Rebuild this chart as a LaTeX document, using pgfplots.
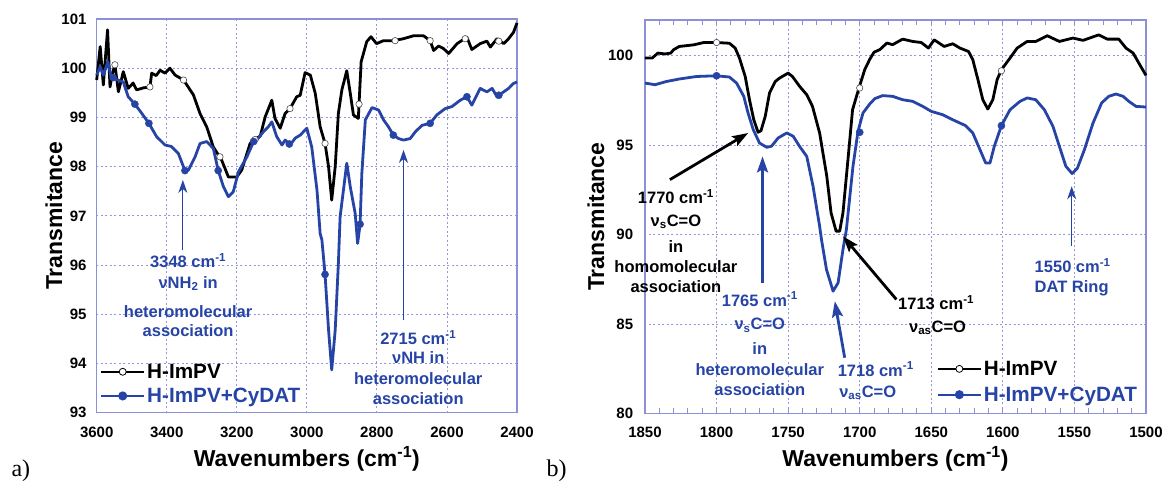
\documentclass[border=0pt]{standalone}
\usepackage{fontspec}
\setmainfont{Liberation Sans}
\newfontfamily\timesfont{Liberation Serif}
\usepackage{pgfplots}
\pgfplotsset{compat=1.18}
\usetikzlibrary{arrows.meta}
\definecolor{myblue}{RGB}{38,68,165}
\definecolor{axiscol}{RGB}{140,145,215}
\definecolor{gridcol}{RGB}{150,150,220}
\newcommand\annfont{\bfseries\fontsize{16.5}{18}\selectfont}
\pgfplotsset{
  myaxis/.style={
    scale only axis, x dir=reverse, clip=false,
    axis line style={draw=axiscol, line width=1.2pt},
    grid=major,
    major grid style={draw=gridcol, line width=0.8pt, dash pattern=on 2pt off 2.5pt},
    tick label style={font=\bfseries\fontsize{15}{15}\selectfont},
    /pgf/number format/assume math mode=true,
    /pgf/number format/1000 sep={},
    label style={font=\bfseries\fontsize{23}{26}\selectfont},
    ytick style={draw=none},
    legend cell align=left,
    legend image code/.code={\draw[mark repeat=2,mark phase=2,##1] plot coordinates {(0pt,0pt) (21.5pt,0pt) (43pt,0pt)};},
  },
  blackleg/.style={black, line width=2pt, mark=*, mark size=3.5pt, mark options={fill=white, draw=black, line width=0.8pt}},
  blueleg/.style={myblue, line width=2pt, mark=*, mark size=3.5pt, mark options={fill=myblue, draw=myblue}},
  blackmk/.style={only marks, mark=*, mark size=3.2pt, mark options={fill=white, draw=black!70, line width=0.6pt}},
  bluemk/.style={only marks, mark=*, mark size=3.6pt, mark options={fill=myblue, draw=myblue}},
}
\begin{document}
\begin{tikzpicture}
\useasboundingbox (0pt,0pt) rectangle (1163pt,482pt);
%================= panel a =================
\begin{axis}[myaxis,
  at={(96.7pt,69.3pt)}, anchor=south west,
  width=420.3pt, height=393.7pt,
  xmin=2400, xmax=3600, ymin=93, ymax=101,
  xtick={2400,2600,...,3600}, ytick={93,94,...,101},
  xtick style={draw=none},
  xticklabel style={yshift=-10.6pt},
  yticklabel style={xshift=-6.7pt},
  xlabel={Wavenumbers (cm\textsuperscript{-1})},
  ylabel={Transmitance},
  xlabel style={at={(axis description cs:0.5,0)}, anchor=center, yshift=-46pt},
  ylabel style={at={(axis description cs:-0.1016,0.5)}, anchor=center},
  legend style={at={(0.0079,0.1295)}, anchor=north west, draw=none, fill=none,
    inner sep=0pt, row sep=4.3pt, font=\bfseries\fontsize{20.7}{22}\selectfont},
]
\addlegendimage{blackleg}\addlegendentry{H-ImPV}
\addlegendimage{blueleg}\addlegendentry[text=myblue]{H-ImPV+CyDAT}
\addplot[black, line width=2.8pt, line join=round, forget plot] table {
x y
3600 99.76
3590 100.44
3581 99.66
3569 100.78
3562 99.62
3555 99.90
3548 100.07
3538 99.52
3524 99.93
3510 99.59
3496 99.70
3486 99.56
3467 99.60
3448 99.62
3443 99.90
3430 99.85
3419 99.96
3405 99.90
3391 100.00
3376 99.86
3352 99.76
3324 99.46
3305 99.08
3286 98.81
3267 98.40
3243 98.13
3224 97.79
3200 97.79
3186 97.93
3162 98.47
3143 98.58
3133 98.62
3119 99.01
3100 99.35
3091 98.98
3076 98.78
3062 99.08
3048 99.18
3029 99.42
3019 99.45
3005 99.91
2990 99.86
2976 99.49
2962 98.81
2948 98.47
2938 98.00
2929 97.32
2919 98.00
2910 99.08
2900 99.56
2886 99.95
2876 99.49
2867 99.05
2853 98.98
2845 100.13
2829 100.54
2817 100.64
2801 100.50
2781 100.56
2753 100.56
2724 100.60
2695 100.66
2667 100.66
2648 100.56
2638 100.36
2624 100.45
2610 100.40
2595 100.30
2571 100.50
2543 100.63
2529 100.38
2505 100.50
2486 100.55
2476 100.43
2457 100.60
2438 100.50
2424 100.60
2410 100.73
2400 100.92
};
\addplot[myblue, line width=2.8pt, line join=round, forget plot] table {
x y
3600 99.86
3590 100.03
3581 99.86
3568 100.13
3558 99.79
3539 99.76
3524 99.72
3510 99.42
3491 99.27
3471 99.08
3451 98.88
3429 98.61
3405 98.44
3387 98.41
3367 98.27
3348 97.92
3338 97.93
3319 98.20
3305 98.47
3286 98.51
3267 98.37
3253 97.92
3238 97.59
3224 97.39
3210 97.49
3195 97.90
3171 98.20
3152 98.51
3143 98.54
3124 98.71
3110 98.81
3100 98.91
3086 98.61
3071 98.44
3062 98.54
3048 98.44
3033 98.58
3019 98.64
3000 98.78
2986 98.40
2971 97.52
2962 96.64
2957 96.51
2948 95.81
2938 94.68
2929 93.87
2919 94.68
2910 96.03
2905 96.98
2886 98.07
2876 97.59
2862 97.05
2855 96.44
2848 96.83
2843 97.86
2833 98.95
2814 99.20
2795 99.15
2781 98.95
2767 98.81
2753 98.64
2738 98.57
2724 98.54
2705 98.57
2690 98.71
2671 98.84
2648 98.88
2629 99.05
2605 99.18
2586 99.22
2562 99.35
2543 99.42
2529 99.25
2505 99.59
2486 99.52
2471 99.59
2457 99.42
2438 99.52
2424 99.59
2410 99.69
2400 99.72
};
\addplot[blackmk, forget plot] table {
x y
3548 100.07
3448 99.62
3352 99.76
3248 98.20
3148 98.55
3048 99.18
2948 98.47
2851 99.27
2748 100.56
2648 100.56
2548 100.60
2452 100.55
};
\addplot[bluemk, forget plot] table {
x y
3553 99.81
3491 99.27
3451 98.88
3348 97.92
3253 97.92
3152 98.51
3050 98.46
2948 95.81
2848 96.83
2753 98.64
2648 98.88
2543 99.42
2452 99.45
};
% annotations
\draw[myblue, line width=1pt, -{Stealth[length=13pt,width=9pt,inset=4pt]}] (axis cs:3354,96.3) -- (axis cs:3354,97.73);
\draw[myblue, line width=1pt, -{Stealth[length=13pt,width=9pt,inset=4pt]}] (axis cs:2724,94.88) -- (axis cs:2724,98.34);
\node[anchor=base, text=myblue, font=\annfont] at (axis cs:3339,95.95) {3348 cm\textsuperscript{-1}};
\node[anchor=base, text=myblue, font=\annfont] at (axis cs:3339,95.53) {νNH\textsubscript{2} in};
\node[anchor=base, text=myblue, font=\annfont] at (axis cs:3339,94.94) {heteromolecular};
\node[anchor=base, text=myblue, font=\annfont] at (axis cs:3339,94.54) {association};
\node[anchor=base, text=myblue, font=\annfont] at (axis cs:2682,94.39) {2715 cm\textsuperscript{-1}};
\node[anchor=base, text=myblue, font=\annfont] at (axis cs:2682,94.00) {νNH in};
\node[anchor=base, text=myblue, font=\annfont] at (axis cs:2682,93.58) {heteromolecular};
\node[anchor=base, text=myblue, font=\annfont] at (axis cs:2682,93.17) {association};
\end{axis}
%================= panel b =================
\begin{axis}[myaxis,
  at={(645pt,68.7pt)}, anchor=south west,
  width=501pt, height=393.3pt,
  xmin=1500, xmax=1850, ymin=80, ymax=102,
  xtick={1500,1550,...,1850}, ytick={80,85,...,100},
  minor x tick num=4,
  tick align=inside, xtick pos=both, xticklabel pos=lower,
  major tick length=5pt, minor tick length=5pt,
  xtick style={draw=axiscol, line width=1pt},
  minor x tick style={draw=axiscol, line width=1pt},
  xticklabel style={yshift=-10pt},
  yticklabel style={xshift=-8.3pt},
  xlabel={Wavenumbers (cm\textsuperscript{-1})},
  ylabel={Transmitance},
  xlabel style={at={(axis description cs:0.5,0)}, anchor=center, yshift=-45.5pt},
  ylabel style={at={(axis description cs:-0.0978,0.5)}, anchor=center},
  legend style={at={(0.5822,0.1386)}, anchor=north west, draw=none, fill=none,
    inner sep=0pt, row sep=6pt, font=\bfseries\fontsize{20.7}{22}\selectfont},
]
\addlegendimage{blackleg}\addlegendentry{H-ImPV}
\addlegendimage{blueleg}\addlegendentry[text=myblue]{H-ImPV+CyDAT}
\addplot[black, line width=2.8pt, line join=round, forget plot] table {
x y
1850 99.87
1845 99.87
1841 100.15
1836 100.10
1832 100.15
1830 100.34
1826 100.52
1816 100.61
1809 100.74
1800 100.74
1791 100.70
1787 100.43
1784 99.87
1780 98.84
1777 97.54
1774 96.42
1771 95.72
1769 95.80
1766 96.61
1763 97.92
1759 98.56
1756 98.75
1750 99.03
1747 98.84
1742 98.29
1737 97.82
1733 97.17
1728 95.68
1723 93.26
1720 91.21
1716.5 90.19
1714 90.19
1711.7 91.21
1708 94.37
1705 96.98
1700.5 98.20
1696.5 99.22
1693 99.80
1690 100.20
1686 100.34
1681 100.71
1677 100.62
1670 100.93
1663 100.80
1657 100.74
1652 100.43
1648 100.89
1641 100.52
1635 100.67
1630 100.43
1624 100.24
1621 99.78
1617.4 98.66
1614 97.54
1610.5 97.02
1607 97.54
1604 98.66
1601 99.22
1595 99.87
1590 100.43
1583 100.80
1577 100.80
1569 101.12
1560.5 100.80
1551 100.99
1544 100.86
1533 101.17
1527 100.93
1519 100.93
1514 100.43
1509 100.15
1505 99.59
1500 98.90
};
\addplot[myblue, line width=2.8pt, line join=round, forget plot] table {
x y
1850 98.47
1843 98.38
1835 98.56
1826 98.70
1814 98.84
1800 98.88
1791 98.81
1786 98.47
1781 97.73
1778 96.80
1774.4 95.87
1770 95.12
1765 94.88
1761.6 94.94
1757 95.40
1751 95.68
1746.5 95.50
1742 94.93
1737 94.37
1732.6 92.70
1728 90.46
1726.7 89.72
1723.2 88.04
1718.6 86.83
1715.1 87.30
1711.7 89.16
1709.3 90.28
1704.7 93.82
1701.2 95.77
1697.7 96.80
1693 97.30
1689.5 97.60
1684 97.77
1677 97.73
1670 97.54
1663 97.45
1656 97.17
1650 96.89
1642 96.70
1635 96.42
1626 96.09
1621 95.68
1616 94.75
1612 94.00
1609 94.00
1606 94.93
1601 96.09
1595 96.98
1588 97.45
1583 97.64
1577 97.54
1571 96.98
1565 96.05
1560.5 94.93
1556 93.82
1551.6 93.41
1548 93.70
1543 94.75
1537 96.24
1531 97.36
1526 97.73
1521 97.86
1516 97.73
1512 97.45
1507 97.17
1500 97.13
};
\addplot[blackmk, forget plot] table {
x y
1800 100.74
1700 98.20
1601 99.16
};
\addplot[bluemk, forget plot] table {
x y
1800 98.88
1700 95.72
1601 96.09
};
% annotations
\draw[black, line width=2.8pt, -{Stealth[length=16pt,width=11pt,inset=3pt]}] (axis cs:1832.6,93.07) -- (axis cs:1777.9,95.68);
\draw[myblue, line width=2.8pt, -{Stealth[length=16pt,width=11pt,inset=3pt]}] (axis cs:1767.9,87.3) -- (axis cs:1767.9,94.37);
\draw[myblue, line width=2.8pt, -{Stealth[length=16pt,width=11pt,inset=3pt]}] (axis cs:1710.5,83.11) -- (axis cs:1717.4,86.27);
\draw[black, line width=2.8pt, -{Stealth[length=16pt,width=11pt,inset=3pt]}] (axis cs:1674.4,86.37) -- (axis cs:1711.7,89.9);
\draw[myblue, line width=1pt, -{Stealth[length=13pt,width=9pt,inset=4pt]}] (axis cs:1551.9,89.35) -- (axis cs:1551.9,92.7);
\node[anchor=base, font=\annfont] at (axis cs:1828.4,91.73) {1770 cm\textsuperscript{-1}};
\node[anchor=base, font=\annfont] at (axis cs:1828.4,90.46) {ν\textsubscript{s}C=O};
\node[anchor=base, font=\annfont] at (axis cs:1828.4,88.98) {in};
\node[anchor=base, font=\annfont] at (axis cs:1828.4,87.89) {homomolecular};
\node[anchor=base, font=\annfont] at (axis cs:1828.4,86.78) {association};
\node[anchor=base, text=myblue, font=\annfont] at (axis cs:1769.8,85.99) {1765 cm\textsuperscript{-1}};
\node[anchor=base, text=myblue, font=\annfont] at (axis cs:1769.8,84.69) {ν\textsubscript{s}C=O};
\node[anchor=base, text=myblue, font=\annfont] at (axis cs:1769.8,83.30) {in};
\node[anchor=base, text=myblue, font=\annfont] at (axis cs:1769.8,82.12) {heteromolecular};
\node[anchor=base, text=myblue, font=\annfont] at (axis cs:1769.8,81.01) {association};
\node[anchor=base, text=myblue, font=\annfont] at (axis cs:1688.8,82.08) {1718 cm\textsuperscript{-1}};
\node[anchor=base, text=myblue, font=\annfont] at (axis cs:1694.4,80.89) {ν\textsubscript{as}C=O};
\node[anchor=base, font=\annfont] at (axis cs:1646.6,85.81) {1713 cm\textsuperscript{-1}};
\node[anchor=base, font=\annfont] at (axis cs:1645.6,84.53) {ν\textsubscript{as}C=O};
\node[anchor=base west, text=myblue, font=\annfont] at (axis cs:1580.2,87.86) {1550 cm\textsuperscript{-1}};
\node[anchor=base west, text=myblue, font=\annfont] at (axis cs:1580.2,86.74) {DAT Ring};
\end{axis}
\node[anchor=base west, font=\timesfont\fontsize{24}{24}\selectfont] at (8pt,5pt) {a)};
\node[anchor=base west, font=\timesfont\fontsize{24}{24}\selectfont] at (543pt,5pt) {b)};
\end{tikzpicture}
\end{document}
